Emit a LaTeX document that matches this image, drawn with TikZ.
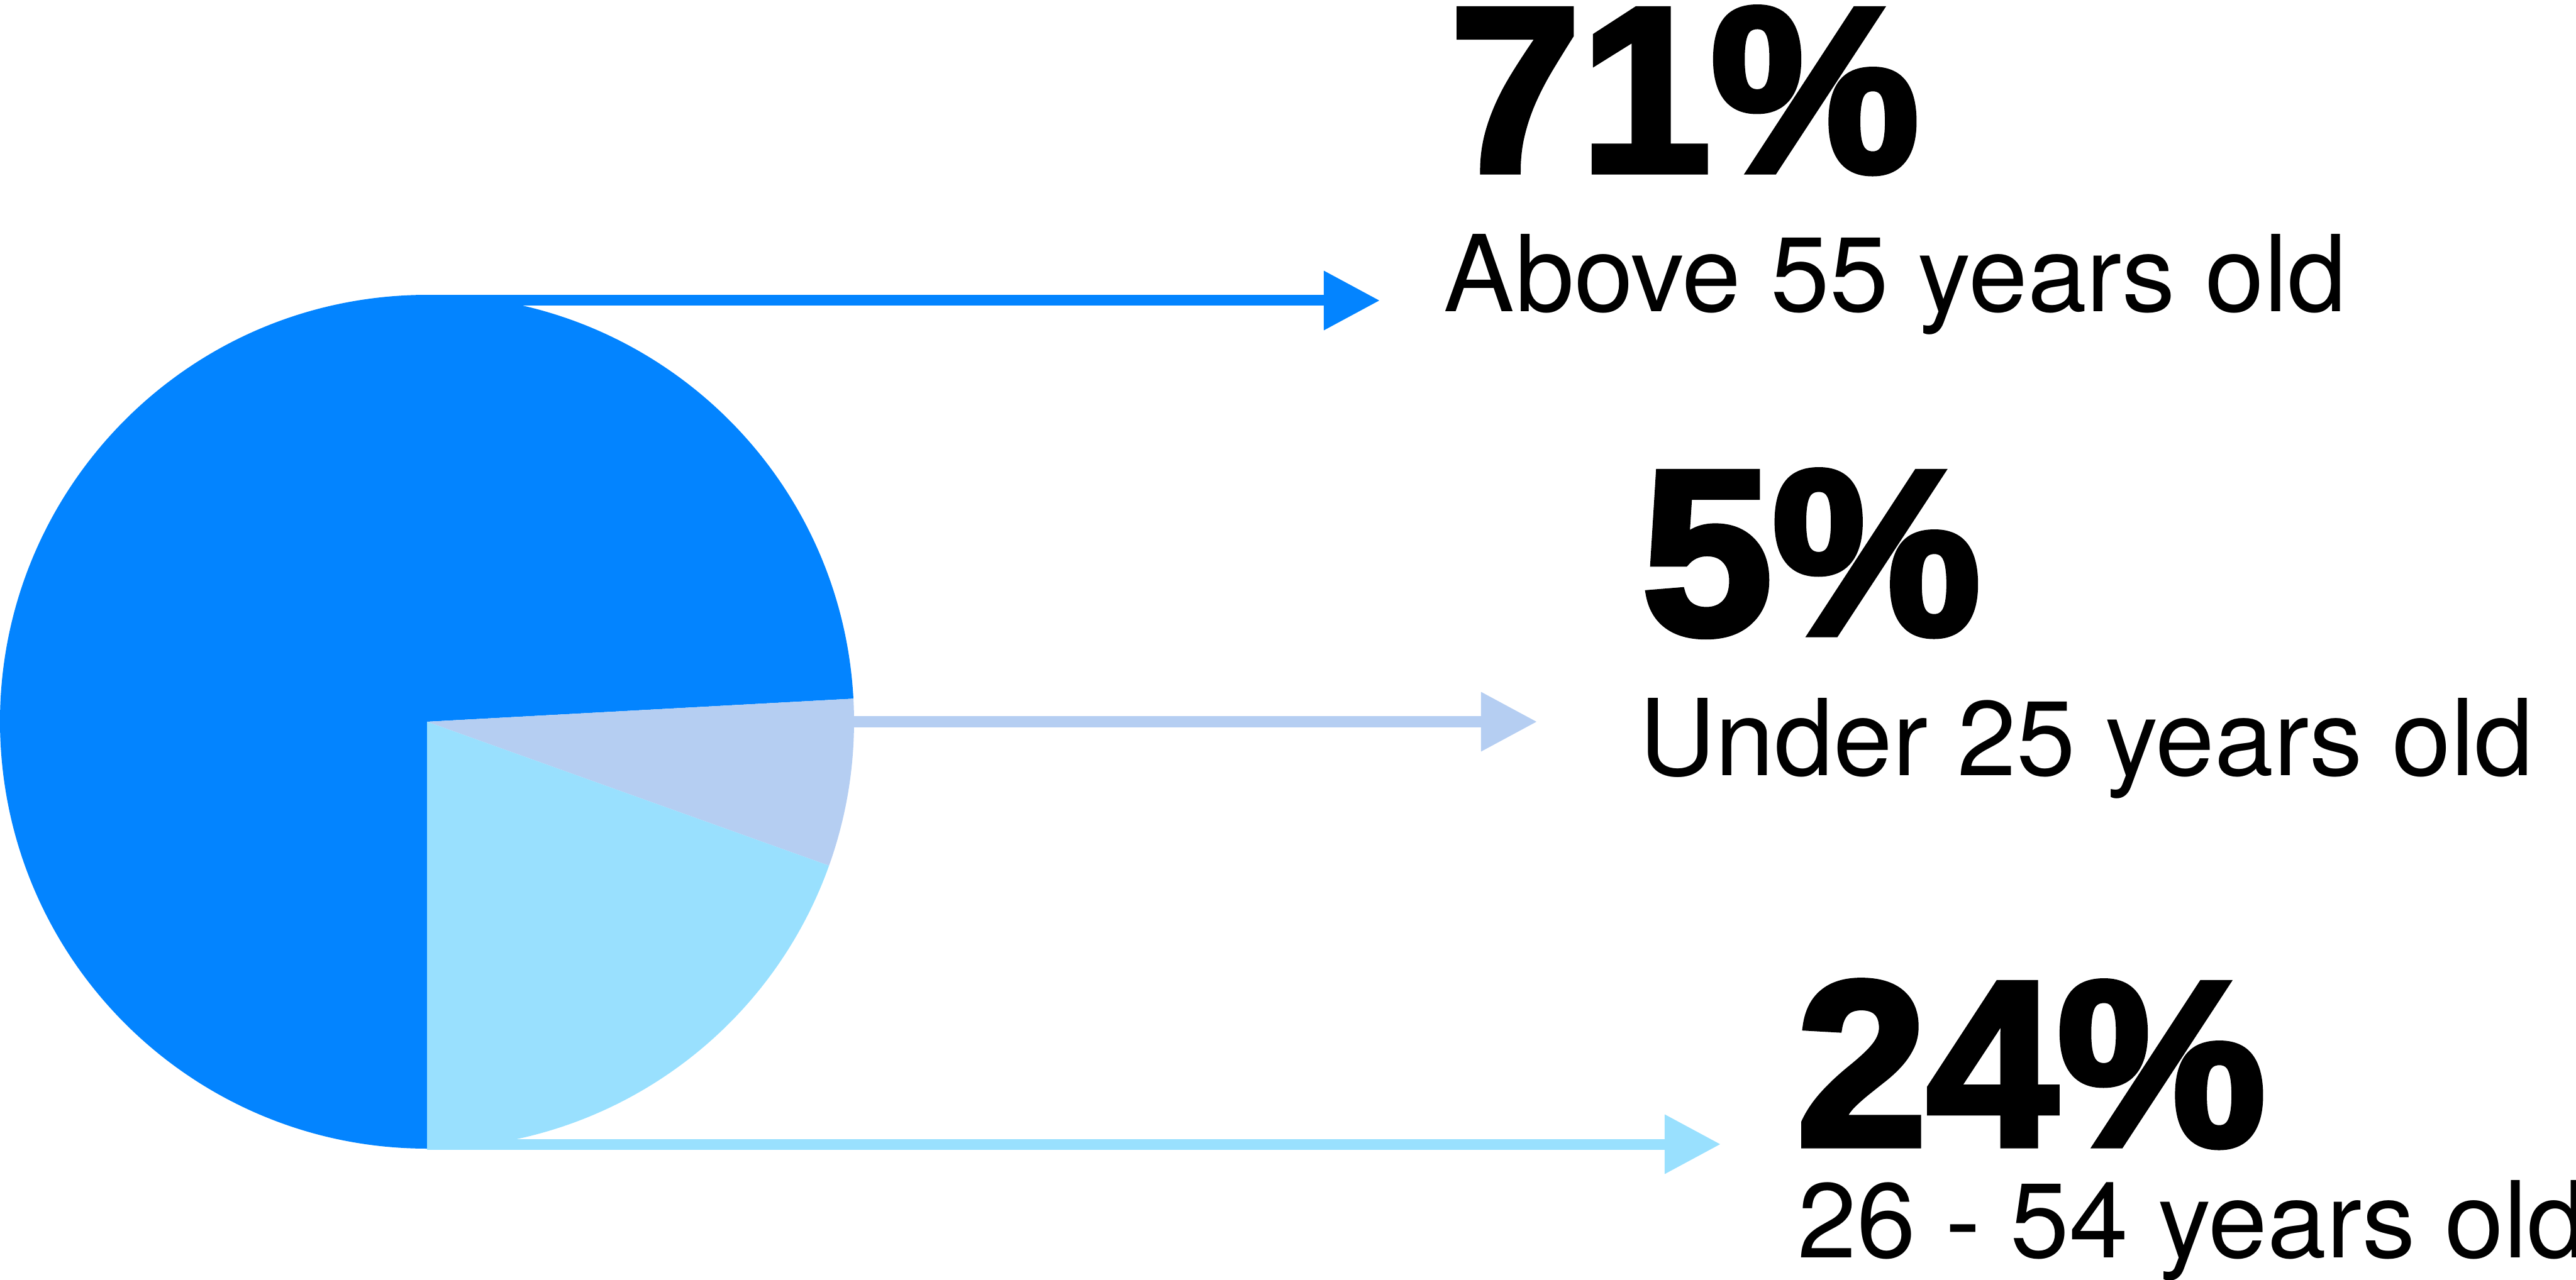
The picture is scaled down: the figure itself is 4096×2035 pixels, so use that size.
\documentclass[tikz,border=0pt]{standalone}
\usepackage{fontspec}
\setmainfont{TeX Gyre Heros}
\newfontfamily\heavyfont{Liberation Sans}[FakeBold=3]
\usetikzlibrary{arrows.meta, positioning}

\definecolor{oldblue}{HTML}{0384FF}
\definecolor{youngblue}{HTML}{B5CEF2}
\definecolor{midblue}{HTML}{99E0FE}

\begin{document}
\begin{tikzpicture}[x=0.01cm, y=0.01cm,
        pct/.style={inner sep=0pt, anchor=base west, font=\heavyfont\bfseries\fontsize{106}{106}\selectfont},
        lbl/.style={inner sep=0pt, anchor=base west, font=\fontsize{48}{48}\selectfont},
        pointer/.style={line width=0.17cm, -{Triangle[length=0.89cm, width=0.9cm]}}]
        \useasboundingbox (0,0) rectangle (4096,2035);

        % pie
        \coordinate (c) at (679,887);
        \fill[oldblue] (c) -- ++(3.1:679) arc[start angle=3.1, end angle=270, radius=679] -- cycle;
        \fill[youngblue] (c) -- ++(-19.7:679) arc[start angle=-19.7, end angle=3.1, radius=679] -- cycle;
        \fill[midblue] (c) -- ++(-90:679) arc[start angle=-90, end angle=-19.7, radius=679] -- cycle;

        % figures and labels
        \node[pct](p71) at (2305,1763) {71\%};
        \node[lbl](l71) at ([shift={(-10,-224)}]p71.base west) {Above 55 years old};
        \node[pct](p5) at (2610,1027) {5\%};
        \node[lbl](l5) at ([shift={(-4,-225)}]p5.base west) {Under 25 years old};
        \node[pct](p24) at (2856,214) {24\%};
        \node[lbl](l24) at ([shift={(2,-179)}]p24.base west) {26 - 54 years old};

        % pointers
        \coordinate (s71) at (679,1557);
        \coordinate (e71) at (2194,1557);
        \coordinate (s5) at (1358,887);
        \coordinate (e5) at (2444,887);
        \coordinate (s24) at (679,215);
        \coordinate (e24) at (2736,215);

        \draw[pointer, oldblue] (s71) -- (e71);
        \draw[pointer, youngblue] (s5) -- (e5);
        \draw[pointer, midblue] (s24) -- (e24);
    \end{tikzpicture}
\end{document}
